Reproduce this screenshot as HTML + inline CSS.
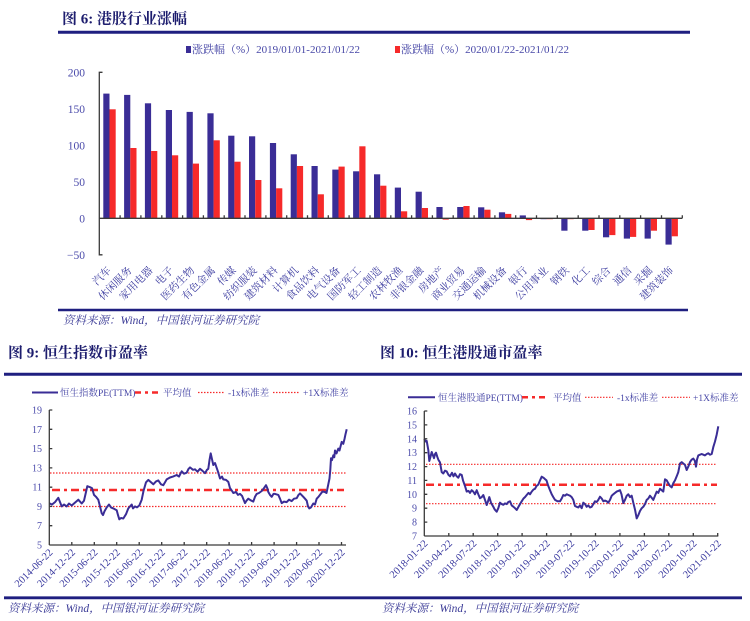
<!DOCTYPE html>
<html><head><meta charset="utf-8"><style>
html,body{margin:0;padding:0;background:#fff;}
svg{display:block;}
.t{font-family:"Liberation Serif","Noto Serif CJK SC",serif;font-weight:bold;font-size:15px;fill:#1d1d6e;}
.lg{font-family:"Liberation Serif","Noto Serif CJK SC",serif;font-size:11px;fill:#4646a6;}
.lg2{font-family:"Liberation Serif","Noto Serif CJK SC",serif;font-size:9.5px;fill:#4646a6;}
.yl{font-family:"Liberation Serif",serif;font-size:11.5px;fill:#4a4aaa;text-anchor:end;}
.yl2{font-family:"Liberation Serif",serif;font-size:10px;fill:#4a4aaa;text-anchor:end;}
.xl{font-family:"Liberation Serif","Noto Serif CJK SC",serif;font-size:10.5px;fill:#3c3ca0;text-anchor:end;}
.dl{font-family:"Liberation Serif",serif;font-size:10.5px;fill:#3c3ca0;text-anchor:end;}
.src{font-family:"Liberation Serif","Noto Serif CJK SC",serif;font-style:italic;font-size:11.5px;fill:#3a3a96;}
</style></head><body>
<svg width="750" height="621" viewBox="0 0 750 621" xmlns="http://www.w3.org/2000/svg">
<rect width="750" height="621" fill="#fff"/>
<!-- ============ TOP CHART ============ -->
<text class="t" x="62" y="23.5">图 6:  港股行业涨幅</text>
<line x1="58" y1="32.3" x2="690" y2="32.3" stroke="#1f1f80" stroke-width="3"/>
<rect x="186" y="46" width="5" height="7" fill="#3a2d96"/>
<text class="lg" x="192" y="53">涨跌幅（%）2019/01/01-2021/01/22</text>
<rect x="395" y="46" width="5" height="7" fill="#f62a2a"/>
<text class="lg" x="401" y="53">涨跌幅（%）2020/01/22-2021/01/22</text>
<text class="yl" x="85" y="76.3">200</text>
<text class="yl" x="85" y="112.8">150</text>
<text class="yl" x="85" y="149.3">100</text>
<text class="yl" x="85" y="185.8">50</text>
<text class="yl" x="85" y="222.3">0</text>
<text class="yl" x="85" y="258.8">−50</text>
<g fill="#3a2d96">
<rect x="103.3" y="93.6" width="6.2" height="124.7"/>
<rect x="124.1" y="94.9" width="6.2" height="123.4"/>
<rect x="144.9" y="103.3" width="6.2" height="115"/>
<rect x="165.8" y="110" width="6.2" height="108.3"/>
<rect x="186.6" y="111.9" width="6.2" height="106.4"/>
<rect x="207.4" y="113.3" width="6.2" height="105"/>
<rect x="228.2" y="135.7" width="6.2" height="82.6"/>
<rect x="249" y="136.3" width="6.2" height="82"/>
<rect x="269.9" y="143" width="6.2" height="75.3"/>
<rect x="290.7" y="154.3" width="6.2" height="64"/>
<rect x="311.5" y="166" width="6.2" height="52.3"/>
<rect x="332.3" y="169.6" width="6.2" height="48.7"/>
<rect x="353.1" y="171.3" width="6.2" height="47"/>
<rect x="374" y="174.3" width="6.2" height="44"/>
<rect x="394.8" y="187.6" width="6.2" height="30.7"/>
<rect x="415.6" y="191.7" width="6.2" height="26.6"/>
<rect x="436.4" y="207" width="6.2" height="11.3"/>
<rect x="457.2" y="207" width="6.2" height="11.3"/>
<rect x="478.1" y="207.3" width="6.2" height="11"/>
<rect x="498.9" y="212.3" width="6.2" height="6"/>
<rect x="519.7" y="215.4" width="6.2" height="2.9"/>
<rect x="540.5" y="218.3" width="6.2" height="0.9"/>
<rect x="561.3" y="218.3" width="6.2" height="12.4"/>
<rect x="582.2" y="218.3" width="6.2" height="12.4"/>
<rect x="603" y="218.3" width="6.2" height="19"/>
<rect x="623.8" y="218.3" width="6.2" height="20.3"/>
<rect x="644.6" y="218.3" width="6.2" height="20.3"/>
<rect x="665.5" y="218.3" width="6.2" height="26.3"/>
</g>
<g fill="#f62a2a">
<rect x="109.5" y="109.3" width="6.2" height="109"/>
<rect x="130.3" y="148" width="6.2" height="70.3"/>
<rect x="151.1" y="151" width="6.2" height="67.3"/>
<rect x="172" y="155.3" width="6.2" height="63"/>
<rect x="192.8" y="163.6" width="6.2" height="54.7"/>
<rect x="213.6" y="140.3" width="6.2" height="78"/>
<rect x="234.4" y="161.7" width="6.2" height="56.6"/>
<rect x="255.2" y="180" width="6.2" height="38.3"/>
<rect x="276.1" y="188.3" width="6.2" height="30"/>
<rect x="296.9" y="166" width="6.2" height="52.3"/>
<rect x="317.7" y="194.3" width="6.2" height="24"/>
<rect x="338.5" y="166.6" width="6.2" height="51.7"/>
<rect x="359.3" y="146.3" width="6.2" height="72"/>
<rect x="380.2" y="185.7" width="6.2" height="32.6"/>
<rect x="401" y="211.3" width="6.2" height="7"/>
<rect x="421.8" y="208" width="6.2" height="10.3"/>
<rect x="442.6" y="218.3" width="6.2" height="1.3"/>
<rect x="463.4" y="206" width="6.2" height="12.3"/>
<rect x="484.3" y="209.7" width="6.2" height="8.6"/>
<rect x="505.1" y="213.9" width="6.2" height="4.4"/>
<rect x="525.9" y="218.3" width="6.2" height="1.8"/>
<rect x="546.7" y="218.3" width="6.2" height="0.9"/>
<rect x="567.5" y="218.3" width="6.2" height="0.9"/>
<rect x="588.4" y="218.3" width="6.2" height="11.7"/>
<rect x="609.2" y="218.3" width="6.2" height="16.8"/>
<rect x="630" y="218.3" width="6.2" height="18.6"/>
<rect x="650.8" y="218.3" width="6.2" height="12.4"/>
<rect x="671.7" y="218.3" width="6.2" height="18"/>
</g>
<g stroke="#3a3a3a" stroke-width="1.3" fill="none">
<polyline points="102.5,72.3 99.3,72.3 99.3,254.8 102.5,254.8"/>
<line x1="99.3" y1="218.3" x2="682.3" y2="218.3"/>
<path d="M120.1 218.3v-3M140.9 218.3v-3M161.8 218.3v-3M182.6 218.3v-3M203.4 218.3v-3M224.2 218.3v-3M245 218.3v-3M265.9 218.3v-3M286.7 218.3v-3M307.5 218.3v-3M328.3 218.3v-3M349.1 218.3v-3M370 218.3v-3M390.8 218.3v-3M411.6 218.3v-3M432.4 218.3v-3M453.2 218.3v-3M474.1 218.3v-3M494.9 218.3v-3M515.7 218.3v-3M536.5 218.3v-3M557.3 218.3v-3M578.2 218.3v-3M599 218.3v-3M619.8 218.3v-3M640.6 218.3v-3M661.5 218.3v-3M682.3 218.3v-3"/>
</g>
<g class="xl">
<text transform="translate(111.7,271) rotate(-45)">汽车</text>
<text transform="translate(132.5,271) rotate(-45)">休闲服务</text>
<text transform="translate(153.3,271) rotate(-45)">家用电器</text>
<text transform="translate(174.2,271) rotate(-45)">电子</text>
<text transform="translate(195,271) rotate(-45)">医药生物</text>
<text transform="translate(215.8,271) rotate(-45)">有色金属</text>
<text transform="translate(236.6,271) rotate(-45)">传媒</text>
<text transform="translate(257.4,271) rotate(-45)">纺织服装</text>
<text transform="translate(278.3,271) rotate(-45)">建筑材料</text>
<text transform="translate(299.1,271) rotate(-45)">计算机</text>
<text transform="translate(319.9,271) rotate(-45)">食品饮料</text>
<text transform="translate(340.7,271) rotate(-45)">电气设备</text>
<text transform="translate(361.5,271) rotate(-45)">国防军工</text>
<text transform="translate(382.4,271) rotate(-45)">轻工制造</text>
<text transform="translate(403.2,271) rotate(-45)">农林牧渔</text>
<text transform="translate(424,271) rotate(-45)">非银金融</text>
<text transform="translate(444.8,271) rotate(-45)">房地产</text>
<text transform="translate(465.6,271) rotate(-45)">商业贸易</text>
<text transform="translate(486.5,271) rotate(-45)">交通运输</text>
<text transform="translate(507.3,271) rotate(-45)">机械设备</text>
<text transform="translate(528.1,271) rotate(-45)">银行</text>
<text transform="translate(548.9,271) rotate(-45)">公用事业</text>
<text transform="translate(569.7,271) rotate(-45)">钢铁</text>
<text transform="translate(590.6,271) rotate(-45)">化工</text>
<text transform="translate(611.4,271) rotate(-45)">综合</text>
<text transform="translate(632.2,271) rotate(-45)">通信</text>
<text transform="translate(653,271) rotate(-45)">采掘</text>
<text transform="translate(673.8,271) rotate(-45)">建筑装饰</text>
</g>
<line x1="58" y1="310" x2="688" y2="310" stroke="#1f1f80" stroke-width="2.6"/>
<text class="src" x="63" y="324">资料来源：Wind，中国银河证券研究院</text>

<!-- ============ BOTTOM LEFT ============ -->
<text class="t" x="8" y="357.5">图 9:  恒生指数市盈率</text>
<line x1="4" y1="374.3" x2="742" y2="374.3" stroke="#1f1f80" stroke-width="3"/>
<line x1="32" y1="392.5" x2="58" y2="392.5" stroke="#3a2d96" stroke-width="2"/>
<text class="lg2" x="60" y="396">恒生指数PE(TTM)</text>
<line x1="135" y1="392.5" x2="158" y2="392.5" stroke="#f62a2a" stroke-width="2.5" stroke-dasharray="6,4,3,4"/>
<text class="lg2" x="163" y="396">平均值</text>
<line x1="198" y1="392.5" x2="225" y2="392.5" stroke="#f62a2a" stroke-width="1.2" stroke-dasharray="1.5,1.5"/>
<text class="lg2" x="228" y="396">-1x标准差</text>
<line x1="273" y1="392.5" x2="300" y2="392.5" stroke="#f62a2a" stroke-width="1.2" stroke-dasharray="1.5,1.5"/>
<text class="lg2" x="303" y="396">+1X标准差</text>
<g class="yl2">
<text x="42" y="413.5">19</text>
<text x="42" y="432.8">17</text>
<text x="42" y="452.1">15</text>
<text x="42" y="471.4">13</text>
<text x="42" y="490.7">11</text>
<text x="42" y="509.9">9</text>
<text x="42" y="529.2">7</text>
<text x="42" y="548.5">5</text>
</g>
<line x1="50" y1="473" x2="346" y2="473" stroke="#f62a2a" stroke-width="1.2" stroke-dasharray="1.5,1.5"/>
<line x1="50" y1="506.5" x2="346" y2="506.5" stroke="#f62a2a" stroke-width="1.2" stroke-dasharray="1.5,1.5"/>
<line x1="52" y1="490" x2="344" y2="490" stroke="#f62a2a" stroke-width="2.5" stroke-dasharray="8,4,3,4"/>
<polyline fill="none" stroke="#3a2d96" stroke-width="2" stroke-linejoin="round" points="49.3,503.3 52,504.5 55,502.1 58.3,497.8 61.7,506.4 64,504.5 66.7,506.4 69,503.5 71.7,505.5 75,502.6 78.3,499.7 81.7,503.5 84,500.7 86,492 87.3,486.2 90,487.2 92,488.1 94,494.9 96,496.8 98.3,499.7 100,506.4 101.7,513.2 103,515.1 104.5,511.3 106.7,507.4 109,504.5 111,507.4 113.3,508.4 116.7,510.3 118,515.1 119.3,519.3 121,518 123.3,518.5 126,514.2 128.3,508.4 131.7,504.5 133,508.4 135,506.4 137,507.4 139.3,505.5 141.7,499.7 143.5,491 146,482.3 148.3,479.9 151,482.3 153.3,484.3 156,481.4 158.3,480.4 161,484.3 163.3,485.2 166.7,479.4 170,477.5 173,476.6 176.7,475 179,476.6 181.7,471.3 184,473.7 186.7,472.7 188.5,468.9 190,467.4 193,469.8 195,469.3 197.5,471.7 200,468.8 202.5,470.8 205,473.2 207,469.8 208.3,468.8 209.5,460.1 210.7,453.4 212,459.2 213.3,465 215,463 216.7,467.9 218,471.7 220,478.5 222,476.6 223.3,479.4 226,479.9 228.3,481.9 230,488.1 231.5,490.1 233.3,493 236,492 238,494.9 240,493.9 242,495.8 245,503.1 246.5,500.7 248.3,498.7 250.5,500.2 253.3,501.6 255,496.8 256.7,493.9 259,493 261.7,491 264,488.1 266,485.2 267.3,488.1 268.3,492 270,494.9 271.7,496.8 273.5,493.9 275,493.9 278.3,494.9 280,498.7 281.7,503.1 284,501.6 286.7,502.1 289,499.7 291.7,501.1 294,498.7 296.7,498.2 298.5,494.9 300,493.4 301.5,494.9 303.3,496.8 305,498.7 306.7,500.7 308,506.4 309.3,508.4 311,507.4 313.3,503.5 315,504.5 316.7,498.7 318.5,496.8 320.7,493.9 322.5,491.5 325,492 326.5,493 328.3,484.3 329.5,478.5 330.3,469.8 331,458.2 332,460.1 333.3,455.3 334.3,457.2 335,450.5 336.5,453.4 338.3,448.6 339.5,450.5 341.7,441.9 343.3,443.8 344.5,439 345.5,434.2 346.7,429.3"/>
<g stroke="#3a3a3a" stroke-width="1.3" fill="none">
<line x1="49.3" y1="410" x2="49.3" y2="545"/>
<line x1="49.3" y1="545" x2="346" y2="545"/>
<path d="M49.3 410h3M49.3 429.3h3M49.3 448.6h3M49.3 467.9h3M49.3 487.2h3M49.3 506.4h3M49.3 525.7h3"/>
<path d="M71.8 545v-3M94.3 545v-3M116.7 545v-3M139.2 545v-3M161.7 545v-3M184.2 545v-3M206.7 545v-3M229.1 545v-3M251.6 545v-3M274.1 545v-3M296.6 545v-3M319 545v-3M341.5 545v-3"/>
</g>
<g class="dl">
<text transform="translate(53.3,553) rotate(-45)">2014-06-22</text>
<text transform="translate(75.8,553) rotate(-45)">2014-12-22</text>
<text transform="translate(98.3,553) rotate(-45)">2015-06-22</text>
<text transform="translate(120.7,553) rotate(-45)">2015-12-22</text>
<text transform="translate(143.2,553) rotate(-45)">2016-06-22</text>
<text transform="translate(165.7,553) rotate(-45)">2016-12-22</text>
<text transform="translate(188.2,553) rotate(-45)">2017-06-22</text>
<text transform="translate(210.7,553) rotate(-45)">2017-12-22</text>
<text transform="translate(233.1,553) rotate(-45)">2018-06-22</text>
<text transform="translate(255.6,553) rotate(-45)">2018-12-22</text>
<text transform="translate(278.1,553) rotate(-45)">2019-06-22</text>
<text transform="translate(300.6,553) rotate(-45)">2019-12-22</text>
<text transform="translate(323,553) rotate(-45)">2020-06-22</text>
<text transform="translate(345.5,553) rotate(-45)">2020-12-22</text>
</g>
<line x1="4" y1="597.8" x2="742" y2="597.8" stroke="#1f1f80" stroke-width="2.8"/>
<text class="src" x="8" y="612">资料来源：Wind，中国银河证券研究院</text>

<!-- ============ BOTTOM RIGHT ============ -->
<text class="t" x="380" y="357.5">图 10:  恒生港股通市盈率</text>
<line x1="408" y1="397.3" x2="435" y2="397.3" stroke="#3a2d96" stroke-width="2"/>
<text class="lg2" x="438" y="400.8">恒生港股通PE(TTM)</text>
<line x1="522" y1="397.3" x2="546" y2="397.3" stroke="#f62a2a" stroke-width="2.5" stroke-dasharray="6,4,3,4"/>
<text class="lg2" x="553" y="400.8">平均值</text>
<line x1="585" y1="397.3" x2="613" y2="397.3" stroke="#f62a2a" stroke-width="1.2" stroke-dasharray="1.5,1.5"/>
<text class="lg2" x="617" y="400.8">-1x标准差</text>
<line x1="662" y1="397.3" x2="690" y2="397.3" stroke="#f62a2a" stroke-width="1.2" stroke-dasharray="1.5,1.5"/>
<text class="lg2" x="693" y="400.8">+1X标准差</text>
<g class="yl2">
<text x="417" y="414.5">16</text>
<text x="417" y="428.4">15</text>
<text x="417" y="442.3">14</text>
<text x="417" y="456.2">13</text>
<text x="417" y="470.1">12</text>
<text x="417" y="483.9">11</text>
<text x="417" y="497.8">10</text>
<text x="417" y="511.7">9</text>
<text x="417" y="525.6">8</text>
<text x="417" y="539.5">7</text>
</g>
<line x1="426" y1="464.3" x2="717" y2="464.3" stroke="#f62a2a" stroke-width="1.2" stroke-dasharray="1.5,1.5"/>
<line x1="426" y1="503.7" x2="717" y2="503.7" stroke="#f62a2a" stroke-width="1.2" stroke-dasharray="1.5,1.5"/>
<line x1="426" y1="484.7" x2="717" y2="484.7" stroke="#f62a2a" stroke-width="2.5" stroke-dasharray="8,4,3,4"/>
<polyline fill="none" stroke="#3a2d96" stroke-width="2" stroke-linejoin="round" points="424.3,438.8 425.5,441.5 426.7,440.9 428.3,449.9 429.3,461 430.5,456.8 431.7,452 433,455.5 434,458.2 435,454.1 436,452.7 437.3,456.8 438.3,459.6 440,462.4 441.7,472.1 443.3,473.5 445,470.7 446.7,471.4 448.5,474.9 450,476.3 452,472.8 453.5,476.3 455,473.5 456.7,476.3 458.3,477.7 460,474.2 461.7,474.9 463,480.4 465,486 466.7,491.6 468.5,490.9 470,492.9 471.7,490.2 473.3,491.6 475,494.3 476.7,490.2 478.3,494.3 480,498.2 481.7,497.1 483.3,495 485,499.9 486.7,505 488,501.3 489.3,497.1 491,502.7 493.3,506.8 494.8,509.6 496.7,511.7 498.3,508.2 500,502.7 501.7,504.1 503.3,504.8 505,503.4 506.7,504.1 508.3,502 510,501.3 511.7,505.4 513.5,506.8 515,508.2 516.7,510 518.5,506.8 520,504.1 521.7,501.3 523.5,498.5 525,497.1 526.7,495 528.5,492.9 530,494.3 531.7,491.6 533.5,489.5 535,488.8 536.5,486 538.3,484.6 540,480.4 541.7,476.7 543.5,477.7 545,479.1 546.5,480.4 548.3,486 550,490.2 551.7,494.3 553.3,497.1 555,499.9 557.5,501.3 560,501.3 561.7,498.5 563.3,495 565,495.7 566.7,494.3 568.3,495 570,495.7 571.7,497.1 573.3,499.9 575,506 576.7,506.8 578.3,507.5 580,505.4 581.7,508.2 583.3,502.7 585,504.1 586.7,506.8 588.3,505.4 590,507.5 591.7,506.8 593.3,504.1 595,501.3 596.7,502 598.3,499.9 600,496.7 601.7,498.5 603.3,501.3 605,500.6 606.7,501.3 608.3,502.7 610,499.9 611.7,495.7 613.3,494.3 615,492.9 616.7,491.6 618.3,490.9 620,490.2 621.5,494.3 623.3,503.1 625,499.9 626.7,495.7 628.3,494.3 630,497.1 631.7,495.7 633.3,502.7 635,509.6 636.7,518.4 638.3,515.2 640,511 641.7,508.2 643.3,506.8 645,504.1 646.7,499.9 648.3,498.5 650,495.7 651.7,497.8 653.3,499.9 655,495.7 656.7,491.6 658.3,492.9 660,488.8 661.7,490.2 663.3,491.6 665,479.3 666.7,480.4 668.3,483.2 670,486 671.7,487.4 673.3,483.2 675,480.4 676.7,476.3 678.3,472.1 680,463.5 681.7,462.1 683.3,463.5 685,464.9 686.7,470 688.3,466.6 690,462.1 691.7,459.6 693.3,458.6 694.8,460.7 696,466.7 697,459.6 698.3,455.4 700,454.7 701.7,454 703.3,454.7 705,455.4 706.7,454 708.3,453.3 710,454.7 711.7,454 713.3,447.1 715,441.5 716.7,434.6 718.3,426.3"/>
<g stroke="#3a3a3a" stroke-width="1.3" fill="none">
<line x1="424.3" y1="411" x2="424.3" y2="536"/>
<line x1="424.3" y1="536" x2="718.3" y2="536"/>
<path d="M424.3 411h3M424.3 424.9h3M424.3 438.8h3M424.3 452.7h3M424.3 466.6h3M424.3 480.4h3M424.3 494.3h3M424.3 508.2h3M424.3 522.1h3"/>
<path d="M448.8 536v-3M473.2 536v-3M497.7 536v-3M522.1 536v-3M546.6 536v-3M571 536v-3M595.5 536v-3M619.9 536v-3M644.4 536v-3M668.8 536v-3M693.3 536v-3M717.7 536v-3"/>
</g>
<g class="dl">
<text transform="translate(428.3,544) rotate(-45)">2018-01-22</text>
<text transform="translate(452.8,544) rotate(-45)">2018-04-22</text>
<text transform="translate(477.2,544) rotate(-45)">2018-07-22</text>
<text transform="translate(501.7,544) rotate(-45)">2018-10-22</text>
<text transform="translate(526.1,544) rotate(-45)">2019-01-22</text>
<text transform="translate(550.6,544) rotate(-45)">2019-04-22</text>
<text transform="translate(575,544) rotate(-45)">2019-07-22</text>
<text transform="translate(599.5,544) rotate(-45)">2019-10-22</text>
<text transform="translate(623.9,544) rotate(-45)">2020-01-22</text>
<text transform="translate(648.4,544) rotate(-45)">2020-04-22</text>
<text transform="translate(672.8,544) rotate(-45)">2020-07-22</text>
<text transform="translate(697.3,544) rotate(-45)">2020-10-22</text>
<text transform="translate(721.7,544) rotate(-45)">2021-01-22</text>
</g>
<text class="src" x="382" y="612">资料来源：Wind，中国银河证券研究院</text>
</svg>
</body></html>
